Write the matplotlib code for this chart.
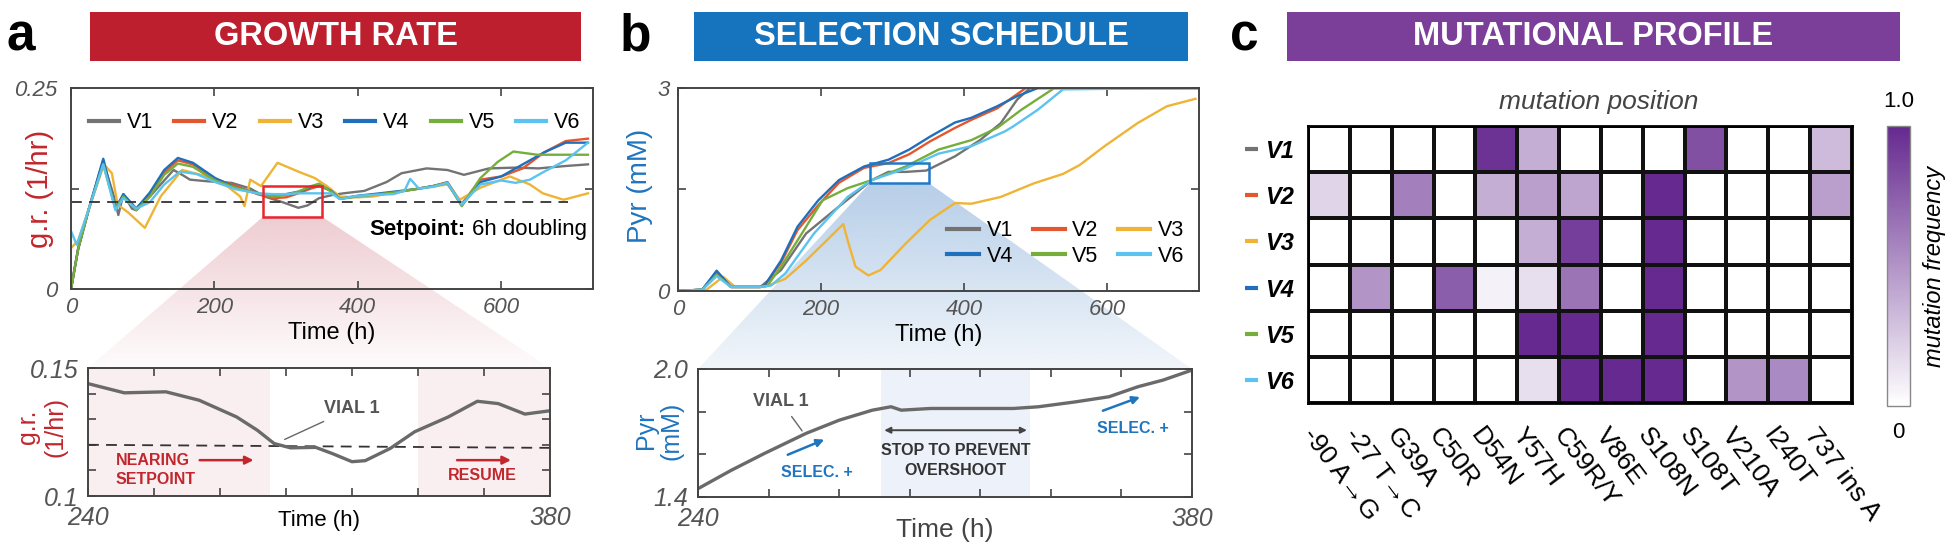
import numpy as np
import matplotlib
matplotlib.use("Agg")
import matplotlib.pyplot as plt
from matplotlib.patches import Rectangle, Polygon
from matplotlib.colors import LinearSegmentedColormap, to_rgb
from matplotlib.transforms import blended_transform_factory

plt.rcParams['font.family'] = ['Liberation Sans', 'DejaVu Sans']

# ---------------- data ----------------
vials = ['V1', 'V2', 'V3', 'V4', 'V5', 'V6']
vial_colors = ['#737373', '#e4572e', '#efb435', '#1f6fbd', '#76ae3c', '#5bc3f0']

# growth rate (1/hr) vs time (h), panel a
gr_t = {
    'V1': [0, 10, 25, 45, 60, 66, 73, 85, 91, 110, 130, 143, 155, 166, 190, 224, 250, 270, 295, 317,
           330, 346, 365, 380, 409, 440, 461, 496, 525, 548, 583, 620, 652, 690, 721],
    'V2': [0, 10, 25, 45, 62, 73, 91, 110, 130, 149, 170, 201, 230, 260, 282, 300, 317, 335, 346, 363,
           375, 400, 421, 450, 479, 505, 525, 545, 571, 600, 630, 660, 690, 721],
    'V3': [0, 10, 25, 46, 57, 65, 80, 103, 125, 155, 190, 215, 236, 242, 250, 265, 288, 317, 340, 357,
           375, 400, 421, 450, 479, 525, 542, 571, 612, 640, 658, 687, 721],
    'V4': [0, 10, 25, 45, 62, 73, 91, 110, 130, 149, 170, 201, 230, 260, 282, 300, 317, 335, 346, 363,
           375, 400, 421, 450, 479, 505, 525, 545, 571, 600, 630, 660, 690, 721],
    'V5': [0, 10, 25, 45, 62, 73, 91, 110, 130, 149, 170, 201, 230, 260, 282, 300, 317, 335, 346, 363,
           375, 400, 421, 450, 479, 505, 525, 545, 571, 595, 617, 650, 690, 721],
    'V6': [0, 8, 25, 45, 62, 73, 91, 110, 130, 152, 175, 201, 230, 260, 282, 300, 317, 335, 363, 375,
           400, 421, 450, 465, 473, 485, 505, 525, 545, 571, 600, 620, 640, 660, 690, 721],
}
gr_v = {
    'V1': [0.0, 0.05, 0.10, 0.158, 0.115, 0.092, 0.118, 0.10, 0.098, 0.115, 0.135, 0.148, 0.142, 0.136,
           0.134, 0.132, 0.125, 0.115, 0.108, 0.101, 0.104, 0.113, 0.117, 0.119, 0.122, 0.133, 0.144,
           0.150, 0.148, 0.142, 0.150, 0.151, 0.150, 0.153, 0.155],
    'V2': [0.0, 0.05, 0.10, 0.160, 0.100, 0.117, 0.100, 0.118, 0.145, 0.160, 0.155, 0.137, 0.128, 0.118,
           0.113, 0.114, 0.119, 0.125, 0.128, 0.122, 0.113, 0.115, 0.117, 0.120, 0.124, 0.128, 0.133,
           0.106, 0.136, 0.140, 0.150, 0.170, 0.184, 0.187],
    'V3': [0.051, 0.06, 0.10, 0.155, 0.144, 0.105, 0.095, 0.076, 0.115, 0.148, 0.140, 0.130, 0.115,
           0.103, 0.136, 0.128, 0.157, 0.146, 0.138, 0.128, 0.115, 0.114, 0.115, 0.120, 0.124, 0.130,
           0.111, 0.126, 0.140, 0.130, 0.119, 0.111, 0.119],
    'V4': [0.0, 0.05, 0.10, 0.162, 0.100, 0.118, 0.100, 0.120, 0.148, 0.163, 0.157, 0.138, 0.126, 0.119,
           0.116, 0.118, 0.121, 0.127, 0.130, 0.122, 0.112, 0.116, 0.118, 0.121, 0.124, 0.128, 0.132,
           0.104, 0.133, 0.140, 0.155, 0.170, 0.182, 0.182],
    'V5': [0.0, 0.05, 0.10, 0.155, 0.100, 0.115, 0.098, 0.115, 0.142, 0.156, 0.152, 0.135, 0.126, 0.119,
           0.115, 0.117, 0.121, 0.128, 0.131, 0.121, 0.112, 0.115, 0.117, 0.120, 0.124, 0.128, 0.132,
           0.103, 0.138, 0.158, 0.171, 0.167, 0.167, 0.167],
    'V6': [0.072, 0.055, 0.100, 0.155, 0.098, 0.113, 0.100, 0.108, 0.130, 0.146, 0.143, 0.133, 0.124,
           0.119, 0.118, 0.118, 0.119, 0.119, 0.119, 0.112, 0.116, 0.117, 0.118, 0.122, 0.137, 0.125,
           0.127, 0.132, 0.105, 0.130, 0.135, 0.132, 0.136, 0.146, 0.160, 0.182],
}
setpoint_gr = 0.108

# pyruvate (mM) vs time (h), panel b
pyr_t = {
    'V1': [0, 34, 54, 74, 115, 144, 179, 225, 271, 294, 318, 347, 387, 422, 451, 474, 492, 730],
    'V2': [0, 34, 54, 74, 115, 121, 144, 167, 196, 225, 260, 294, 323, 352, 387, 410, 446, 486, 730],
    'V3': [0, 40, 63, 80, 121, 150, 179, 208, 231, 237, 248, 266, 283, 318, 352, 387, 410, 451, 497,
           538, 561, 596, 642, 683, 723],
    'V4': [0, 34, 54, 74, 115, 121, 144, 167, 196, 225, 260, 294, 323, 352, 387, 410, 446, 474, 503, 730],
    'V5': [0, 34, 54, 74, 115, 125, 144, 179, 202, 237, 271, 318, 364, 410, 446, 480, 526, 730],
    'V6': [0, 34, 54, 74, 115, 130, 150, 190, 237, 271, 318, 364, 410, 457, 468, 503, 538, 620, 730],
}
pyr_v = {
    'V1': [0, 0.02, 0.28, 0.06, 0.06, 0.31, 0.85, 1.25, 1.64, 1.76, 1.76, 1.78, 1.99, 2.23, 2.48, 2.83,
           3.0, 3.0],
    'V2': [0, 0.02, 0.28, 0.06, 0.06, 0.08, 0.42, 0.90, 1.27, 1.60, 1.82, 1.89, 2.02, 2.21, 2.41, 2.53,
           2.70, 3.0, 3.0],
    'V3': [0, 0.02, 0.21, 0.06, 0.06, 0.18, 0.45, 0.75, 0.99, 0.75, 0.36, 0.23, 0.31, 0.70, 1.05, 1.30,
           1.29, 1.39, 1.59, 1.73, 1.86, 2.14, 2.48, 2.73, 2.84],
    'V4': [0, 0.02, 0.30, 0.06, 0.06, 0.08, 0.45, 0.95, 1.34, 1.64, 1.84, 1.94, 2.09, 2.28, 2.49, 2.56,
           2.73, 2.88, 3.0, 3.0],
    'V5': [0, 0.02, 0.24, 0.06, 0.06, 0.08, 0.36, 0.95, 1.34, 1.52, 1.64, 1.84, 2.09, 2.23, 2.41, 2.68,
           3.0, 3.0],
    'V6': [0, 0.02, 0.22, 0.06, 0.06, 0.08, 0.26, 0.85, 1.39, 1.64, 1.81, 2.03, 2.14, 2.36, 2.43, 2.68,
           2.98, 2.99, 3.0],
}

# zoomed vial 1 traces
zoom_gr_t = [240, 251, 263.6, 273.7, 285, 291.3, 296.4, 301.4, 309, 314, 320, 324, 331.6, 339, 349.2,
             358, 364.3, 372.4, 380]
zoom_gr_v = [0.1439, 0.1403, 0.1407, 0.1374, 0.1309, 0.1257, 0.1205, 0.1188, 0.119, 0.1166, 0.1134,
             0.1138, 0.1186, 0.1251, 0.1309, 0.137, 0.1361, 0.132, 0.1333]
zoom_setpoint = [0.1200, 0.1188]
zoom_pyr_t = [240, 249.4, 258.8, 270.6, 280, 289.4, 294.7, 297.6, 305.9, 317.6, 329.4, 336.5, 347,
              356.5, 364.7, 371.8, 380]
zoom_pyr_v = [1.439, 1.525, 1.604, 1.698, 1.760, 1.807, 1.823, 1.807, 1.815, 1.815, 1.815, 1.823,
              1.846, 1.870, 1.917, 1.948, 1.995]
nearing_span = (240, 295)
resume_span = (340, 380)
stop_span = (292, 334)

# mutational profile, panel c
mutations = ['-90 A→G', '-27 T→C', 'G39A', 'C50R', 'D54N', 'Y57H', 'C59R/Y', 'V86E', 'S108N',
             'S108T', 'V210A', 'I240T', '737 ins A']
mut_freq = np.array([
    [0, 0, 0, 0, 0.95, 0.38, 0, 0, 0, 0.82, 0, 0, 0.32],
    [0.2, 0, 0.6, 0, 0.38, 0.45, 0.42, 0, 1.0, 0, 0, 0, 0.45],
    [0, 0, 0, 0, 0, 0.38, 0.9, 0, 1.0, 0, 0, 0, 0],
    [0, 0.5, 0, 0.75, 0.07, 0.15, 0.65, 0, 1.0, 0, 0, 0, 0],
    [0, 0, 0, 0, 0, 1.0, 1.0, 0, 1.0, 0, 0, 0, 0],
    [0, 0, 0, 0, 0, 0.15, 1.0, 1.0, 1.0, 0, 0.5, 0.55, 0],
])

RED = '#bd1f2e'
BLUE = '#1673bd'
PURPLE = '#7b3e99'
TXT_RED = '#c1272d'
TXT_BLUE = '#1f75be'
GRAY = '#555555'

fig = plt.figure(figsize=(19.5, 5.56), dpi=100)
W, H = 1950.0, 556.0


def fr(x0, y0, x1, y1):
    # pixel box (top-left origin) -> figure fraction rect
    return [x0 / W, 1 - y1 / H, (x1 - x0) / W, (y1 - y0) / H]


bg = fig.add_axes([0, 0, 1, 1])
bg.set_xlim(0, 1)
bg.set_ylim(0, 1)
bg.axis('off')
bg.set_zorder(-5)

# title bars and panel letters
for (x0, x1), col, title, letter, lx in [((90, 581), RED, 'GROWTH RATE', 'a', 6),
                                          ((694, 1188), BLUE, 'SELECTION SCHEDULE', 'b', 620),
                                          ((1287, 1900), PURPLE, 'MUTATIONAL PROFILE', 'c', 1230)]:
    r = fr(x0, 12, x1, 61)
    bg.add_patch(Rectangle((r[0], r[1]), r[2], r[3], color=col, lw=0))
    bg.text(r[0] + r[2] / 2, r[1] + r[3] / 2, title, color='white', fontsize=23.5,
            fontweight='bold', ha='center', va='center')
    fig.text(lx / W, 1 - 37 / H, letter, fontsize=37, fontweight='bold', ha='left', va='center')


def style(ax, fs, pad=5):
    for s in ax.spines.values():
        s.set_color('#444444')
        s.set_linewidth(1.4)
    ax.tick_params(direction='in', top=True, right=True, length=6, width=1.2, color='#444444',
                   labelsize=fs, labelcolor=GRAY, pad=pad)
    for lbl in ax.get_xticklabels() + ax.get_yticklabels():
        lbl.set_fontstyle('italic')


# ---------------- panel a top ----------------
ax1 = fig.add_axes(fr(71, 88, 593, 289))
ax1.set_facecolor('none')
for v, c in zip(vials, vial_colors):
    ax1.plot(gr_t[v], gr_v[v], color=c, lw=1.7, label=v)
ax1.plot([0, 693], [setpoint_gr, setpoint_gr], color='#333333', lw=1.3, ls=(0, (6, 4)))
ax1.add_patch(Rectangle((268, 0.090), 82, 0.038, fill=False, ec='#e8262d', lw=1.8, zorder=5))
ax1.set_xlim(0, 728)
ax1.set_ylim(0, 0.25)
ax1.set_xticks([0, 200, 400, 600])
ax1.set_yticks([0, 0.125, 0.25], ['0', '', '0.25'])
style(ax1, 16, pad=6)
ax1.tick_params(axis='y', pad=10)
ax1.set_xlabel('Time (h)', fontsize=17, labelpad=3)
ax1.text(-0.06, 0.5, 'g.r. (1/hr)', transform=ax1.transAxes, rotation=90, ha='center',
         va='center', fontsize=21, color=TXT_RED)
sp_txt = ax1.text(0.989, 0.294, '6h doubling', transform=ax1.transAxes, ha='right',
                  va='center', fontsize=16)
renderer = fig.canvas.get_renderer()
sp_left = ax1.transAxes.inverted().transform(sp_txt.get_window_extent(renderer).p0)[0]
ax1.text(sp_left - 0.012, 0.294, 'Setpoint:', transform=ax1.transAxes, ha='right', va='center',
         fontsize=16, fontweight='bold')
leg = ax1.legend(ncol=6, loc='center', bbox_to_anchor=(0.505, 0.826), frameon=False, fontsize=15.5,
                 handlelength=1.4, handletextpad=0.35, columnspacing=1.0)
for h in leg.get_lines():
    h.set_linewidth(3)

# ---------------- panel a bottom ----------------
ax2 = fig.add_axes(fr(88, 368, 550, 496))
ax2.axvspan(*nearing_span, color='#f9eef0', lw=0)
ax2.axvspan(*resume_span, color='#f9eef0', lw=0)
ax2.plot([240, 380], zoom_setpoint, color='#333333', lw=1.3, ls=(0, (6, 4)))
ax2.plot(zoom_gr_t, zoom_gr_v, color='#6a6a6a', lw=2.4)
ax2.set_xlim(240, 380)
ax2.set_ylim(0.1, 0.15)
xt = list(range(240, 381, 20))
ax2.set_xticks(xt, ['240'] + [''] * 6 + ['380'])
ax2.set_yticks([0.10, 0.11, 0.12, 0.13, 0.14, 0.15], ['0.1', '', '', '', '', '0.15'])
style(ax2, 18, pad=7)
ax2.text(0.5, -0.19, 'Time (h)', transform=ax2.transAxes, ha='center', va='center', fontsize=16)
ax2.text(-0.1, 0.54, 'g.r.\n(1/hr)', transform=ax2.transAxes, rotation=90, ha='center',
         va='center', fontsize=18, color=TXT_RED, linespacing=1.15)
ax2.annotate('VIAL 1', xy=(299.6, 0.1221), xytext=(320, 0.1342), ha='center', va='center',
             fontsize=13, fontweight='bold', color=GRAY,
             arrowprops=dict(arrowstyle='-', color='#666666', lw=1.0, shrinkA=3, shrinkB=0))
ax2.text(248.3, 0.1103, 'NEARING\nSETPOINT', ha='left', va='center', fontsize=11.5,
         fontweight='bold', color=TXT_RED, linespacing=1.35)
ax2.annotate('', xy=(291, 0.114), xytext=(273, 0.114),
             arrowprops=dict(arrowstyle='-|>', color=TXT_RED, lw=1.8, mutation_scale=12))
ax2.text(349, 0.1082, 'RESUME', ha='left', va='center', fontsize=11.5, fontweight='bold',
         color=TXT_RED)
ax2.annotate('', xy=(369, 0.114), xytext=(351, 0.114),
             arrowprops=dict(arrowstyle='-|>', color=TXT_RED, lw=1.8, mutation_scale=12))

# ---------------- panel b top ----------------
ax3 = fig.add_axes(fr(678, 88, 1199, 291))
ax3.set_facecolor('none')
lines = {}
for v, c in zip(vials, vial_colors):
    lines[v], = ax3.plot(pyr_t[v], pyr_v[v], color=c, lw=1.7, label=v)
ax3.add_patch(Rectangle((268, 1.59), 83, 0.30, fill=False, ec='#1f78c8', lw=1.8, zorder=5))
ax3.set_xlim(0, 728)
ax3.set_ylim(0, 3)
ax3.set_xticks([0, 200, 400, 600])
ax3.set_yticks([0, 1.5, 3], ['0', '', '3'])
style(ax3, 16, pad=6)
ax3.set_xlabel('Time (h)', fontsize=17, labelpad=3)
ax3.text(-0.073, 0.52, 'Pyr (mM)', transform=ax3.transAxes, rotation=90, ha='center',
         va='center', fontsize=20, color=TXT_BLUE)
order = ['V1', 'V4', 'V2', 'V5', 'V3', 'V6']
leg = ax3.legend([lines[v] for v in order], order, ncol=3, loc='center',
                 bbox_to_anchor=(0.744, 0.234), frameon=False, fontsize=15.5, handlelength=1.5,
                 handletextpad=0.35, columnspacing=0.9, labelspacing=0.2)
for h in leg.get_lines():
    h.set_linewidth(3)

# ---------------- panel b bottom ----------------
ax4 = fig.add_axes(fr(698, 369, 1192, 497))
ax4.axvspan(*stop_span, color='#edf1f9', lw=0)
ax4.plot(zoom_pyr_t, zoom_pyr_v, color='#6a6a6a', lw=2.4)
ax4.set_xlim(240, 380)
ax4.set_ylim(1.4, 2.0)
ax4.set_xticks(xt, ['240'] + [''] * 6 + ['380'])
ax4.set_yticks([1.4, 1.6, 1.8, 2.0], ['1.4', '', '', '2.0'])
style(ax4, 18, pad=7)
ax4.text(0.5, -0.26, 'Time (h)', transform=ax4.transAxes, ha='center', va='center', fontsize=19,
         color='#444444')
ax4.text(-0.08, 0.52, 'Pyr\n(mM)', transform=ax4.transAxes, rotation=90, ha='center', va='center',
         fontsize=18, color=TXT_BLUE, linespacing=1.1)
ax4.annotate('VIAL 1', xy=(269.5, 1.71), xytext=(263.5, 1.846), ha='center', va='center',
             fontsize=13, fontweight='bold', color=GRAY,
             arrowprops=dict(arrowstyle='-', color='#666666', lw=1.0, shrinkA=3, shrinkB=0))
ax4.text(263.5, 1.517, 'SELEC. +', ha='left', va='center', fontsize=11.5, fontweight='bold',
         color=TXT_BLUE)
ax4.annotate('', xy=(276.5, 1.674), xytext=(264.7, 1.593),
             arrowprops=dict(arrowstyle='-|>', color=TXT_BLUE, lw=1.8, mutation_scale=11))
ax4.text(313, 1.57, 'STOP TO PREVENT\nOVERSHOOT', ha='center', va='center', fontsize=11.5,
         fontweight='bold', color='#333333', linespacing=1.4)
ax4.annotate('', xy=(292, 1.713), xytext=(334, 1.713),
             arrowprops=dict(arrowstyle='<|-|>', color='#444444', lw=1.4, mutation_scale=9))
ax4.text(353, 1.721, 'SELEC. +', ha='left', va='center', fontsize=11.5, fontweight='bold',
         color=TXT_BLUE)
ax4.annotate('', xy=(366, 1.873), xytext=(354, 1.80),
             arrowprops=dict(arrowstyle='-|>', color=TXT_BLUE, lw=1.8, mutation_scale=11))


# ---------------- zoom trapezoids ----------------
def to_fig(pts, tr):
    return fig.transFigure.inverted().transform(tr.transform(pts))


def fade(poly, color, a_top, a_bot):
    xs, ys = poly[:, 0], poly[:, 1]
    rgba = np.zeros((256, 1, 4))
    rgba[..., :3] = to_rgb(color)
    rgba[..., 3] = np.linspace(a_top, a_bot, 256)[:, None]
    im = bg.imshow(rgba, extent=(xs.min(), xs.max(), ys.min(), ys.max()), origin='upper',
                   aspect='auto', interpolation='bilinear')
    patch = Polygon(poly, closed=True, transform=bg.transData, fc='none', ec='none')
    bg.add_patch(patch)
    im.set_clip_path(patch)


top_a = to_fig([(268, 0.090), (350, 0.090)], ax1.transData)
bot_a = to_fig([(1, 1), (0, 1)], ax2.transAxes)
fade(np.vstack([top_a, bot_a]), '#d98f9a', 0.45, 0.03)
top_b = to_fig([(268, 1.59), (351, 1.59)], ax3.transData)
bot_b = to_fig([(1, 1), (0, 1)], ax4.transAxes)
fade(np.vstack([top_b, bot_b]), '#8fb4dc', 0.65, 0.12)
bg.set_xlim(0, 1)
bg.set_ylim(0, 1)

# ---------------- panel c ----------------
ax5 = fig.add_axes(fr(1308, 126, 1852, 403))
cmap = LinearSegmentedColormap.from_list('purp', ['#ffffff', '#65298f'])
mesh = ax5.pcolormesh(np.arange(len(mutations) + 1), np.arange(len(vials) + 1), mut_freq,
                      cmap=cmap, vmin=0, vmax=1, edgecolors='#111111', linewidth=1.5)
ax5.set_xlim(0, len(mutations))
ax5.set_ylim(len(vials), 0)
for s in ax5.spines.values():
    s.set_linewidth(2)
ax5.set_xticks(np.arange(len(mutations)) + 0.5, [])
ax5.set_yticks(np.arange(len(vials)) + 0.5, vials)
ax5.tick_params(length=0)
ax5.tick_params(axis='y', pad=10, labelsize=17)
for lbl in ax5.get_yticklabels():
    lbl.set_fontstyle('italic')
    lbl.set_fontweight('bold')
trx = blended_transform_factory(ax5.transData, ax5.transAxes)
for i, m in enumerate(mutations):
    ax5.text(i + 0.22, -0.075, m, transform=trx, rotation=-53, rotation_mode='anchor',
             ha='left', va='top', fontsize=19)
tr = blended_transform_factory(ax5.transAxes, ax5.transData)
for i, c in enumerate(vial_colors):
    ax5.plot([-0.115, -0.092], [i + 0.5, i + 0.5], transform=tr, color=c, lw=3, clip_on=False,
             solid_capstyle='butt')
ax5.text(0.535, 1.087, 'mutation position', transform=ax5.transAxes, ha='center', va='center',
         fontsize=19, fontstyle='italic', color='#444444')

cax = fig.add_axes(fr(1887, 126, 1910, 406))
cb = fig.colorbar(mesh, cax=cax)
cb.set_ticks([])
cb.outline.set_edgecolor('#888888')
cb.outline.set_linewidth(1)
cax.text(0.5, 1.086, '1.0', transform=cax.transAxes, ha='center', va='center', fontsize=16)
cax.text(0.5, -0.093, '0', transform=cax.transAxes, ha='center', va='center', fontsize=16)
cax.text(2.05, 0.5, 'mutation frequency', transform=cax.transAxes, rotation=90, ha='center',
         va='center', fontsize=17, fontstyle='italic')

fig.savefig('out.png', dpi=100)
